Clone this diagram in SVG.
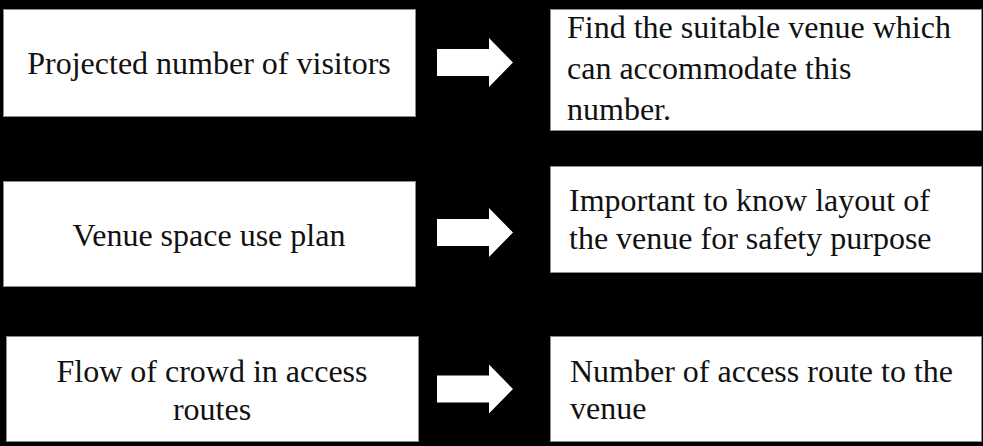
<svg xmlns="http://www.w3.org/2000/svg" xmlns:xlink="http://www.w3.org/1999/xlink" width="983" height="446" viewBox="0 0 983 446">
  <style>
    .box { fill: #ffffff; stroke: #8a8a8a; stroke-width: 1; }
    .lbl { font-family: "Liberation Serif", "Times New Roman", serif; font-size: 32px; fill: #111111; }
    .mid { text-anchor: middle; }
    .arrow { fill: #ffffff; }
  </style>
  <defs>
    <!-- block arrow, origin at the vertical centre of its left end -->
    <path id="blockArrow" d="M0,-13.5 H52 V-24.5 L76,0 L52,24.5 V13.5 H0 Z"/>
  </defs>

  <rect x="0" y="0" width="983" height="446" fill="#000000"/>

  <g id="node-visitors">
    <rect class="box" x="3.5" y="9.5" width="412" height="107"/>
    <text class="lbl mid" x="209" y="74">Projected number of visitors</text>
  </g>
  <g id="node-find-venue">
    <rect class="box" x="550.5" y="9.5" width="431" height="121"/>
    <text class="lbl" x="567" y="38">Find the suitable venue which</text>
    <text class="lbl" x="567" y="79">can accommodate this</text>
    <text class="lbl" x="567" y="120">number.</text>
  </g>
  <g id="node-space-plan">
    <rect class="box" x="3.5" y="181.5" width="412" height="105"/>
    <text class="lbl mid" x="209" y="246">Venue space use plan</text>
  </g>
  <g id="node-layout">
    <rect class="box" x="550.5" y="166.5" width="431" height="106"/>
    <text class="lbl" x="569" y="211">Important to know layout of</text>
    <text class="lbl" x="569" y="249">the venue for safety purpose</text>
  </g>
  <g id="node-crowd-flow">
    <rect class="box" x="6.5" y="336.5" width="412" height="105"/>
    <text class="lbl mid" x="212" y="382">Flow of crowd in access</text>
    <text class="lbl mid" x="212" y="420">routes</text>
  </g>
  <g id="node-access-routes">
    <rect class="box" x="550.5" y="336.5" width="431" height="105"/>
    <text class="lbl" x="570" y="382">Number of access route to the</text>
    <text class="lbl" x="570" y="419">venue</text>
  </g>

  <g id="connectors">
    <use class="arrow" xlink:href="#blockArrow" transform="translate(437,62.5)"/>
    <use class="arrow" xlink:href="#blockArrow" transform="translate(437,232.5)"/>
    <use class="arrow" xlink:href="#blockArrow" transform="translate(437,389)"/>
  </g>
</svg>
